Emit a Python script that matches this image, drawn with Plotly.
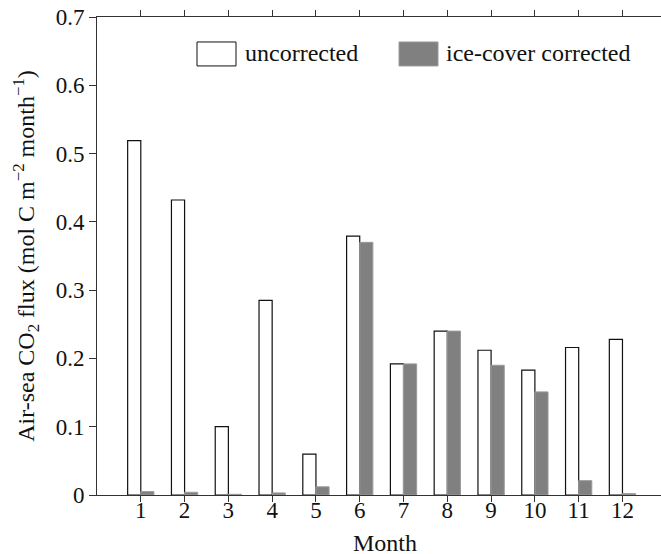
import plotly.graph_objects as go

months = [1, 2, 3, 4, 5, 6, 7, 8, 9, 10, 11, 12]
uncorrected = [0.519, 0.432, 0.100, 0.285, 0.060, 0.379, 0.192, 0.240, 0.212, 0.183, 0.216, 0.228]
corrected = [0.005, 0.004, 0.001, 0.003, 0.012, 0.370, 0.192, 0.240, 0.190, 0.151, 0.021, 0.002]
y_ticks = [0, 0.1, 0.2, 0.3, 0.4, 0.5, 0.6, 0.7]
y_tick_labels = ["0", "0.1", "0.2", "0.3", "0.4", "0.5", "0.6", "0.7"]

FONT = "Liberation Serif"
INK = "#111111"

fig = go.Figure()
fig.add_trace(go.Bar(
    x=months, y=uncorrected, name="uncorrected",
    width=0.3, offset=-0.3,
    marker=dict(color="white", line=dict(color=INK, width=1.2)),
    showlegend=False, hoverinfo="skip",
))
fig.add_trace(go.Bar(
    x=months, y=corrected, name="ice-cover corrected",
    width=0.3, offset=0.0,
    marker=dict(color="#808080", line=dict(color="#9a9a9a", width=1)),
    showlegend=False, hoverinfo="skip",
))

PW, PH = 564.0, 478.5
L, T = 97.0, 17.0
def px(x):
    return (x - L) / PW
def py(y):
    return (T + PH - y) / PH

# legend (drawn manually)
fig.add_shape(type="rect", xref="paper", yref="paper",
              x0=px(197), x1=px(236), y0=py(66), y1=py(42),
              line=dict(color=INK, width=1), fillcolor="white")
fig.add_shape(type="rect", xref="paper", yref="paper",
              x0=px(399), x1=px(438), y0=py(66), y1=py(42),
              line=dict(color="#9a9a9a", width=1), fillcolor="#808080")
fig.add_annotation(xref="paper", yref="paper", x=px(243), y=py(53),
                   text="uncorrected", showarrow=False, xanchor="left", yanchor="middle",
                   font=dict(family=FONT, size=24, color=INK))
fig.add_annotation(xref="paper", yref="paper", x=px(444), y=py(53),
                   text="ice-cover corrected", showarrow=False, xanchor="left", yanchor="middle",
                   font=dict(family=FONT, size=24, color=INK))
# x-axis title
fig.add_annotation(xref="paper", yref="paper", x=px(385), y=py(544),
                   text="Month", showarrow=False, xanchor="center", yanchor="middle",
                   font=dict(family=FONT, size=24, color=INK))

fig.update_layout(
    width=661, height=554,
    margin=dict(l=97, r=0, t=17, b=58.5),
    plot_bgcolor="white", paper_bgcolor="white",
    barmode="overlay",
    font=dict(family=FONT, size=23, color=INK),
    xaxis=dict(
        range=[0, 12.88], tickmode="array", tickvals=months, ticktext=[str(m) for m in months],
        showline=True, linecolor="#333333", linewidth=1, mirror="ticks",
        ticks="outside", ticklen=6, tickcolor="#333333", showgrid=False, zeroline=False,
        ticklabelstandoff=-12,
        tickfont=dict(family=FONT, size=23, color=INK),
    ),
    yaxis=dict(
        range=[0, 0.7], tickmode="array", tickvals=y_ticks, ticktext=y_tick_labels,
        showline=True, linecolor="#333333", linewidth=1, ticklabeloverflow="allow",
        ticks="outside", ticklen=7, tickcolor="#333333", showgrid=False, zeroline=False,
        tickfont=dict(family=FONT, size=23, color=INK),
        title=dict(text="Air-sea CO<sub>2</sub> flux (mol C m<sup>\u22122</sup> month<sup>\u22121</sup>)",
                   font=dict(family=FONT, size=24, color=INK), standoff=14),
    ),
)

fig.write_html("out.html", config={"displayModeBar": False},
               post_script="document.body.style.margin='0';")
